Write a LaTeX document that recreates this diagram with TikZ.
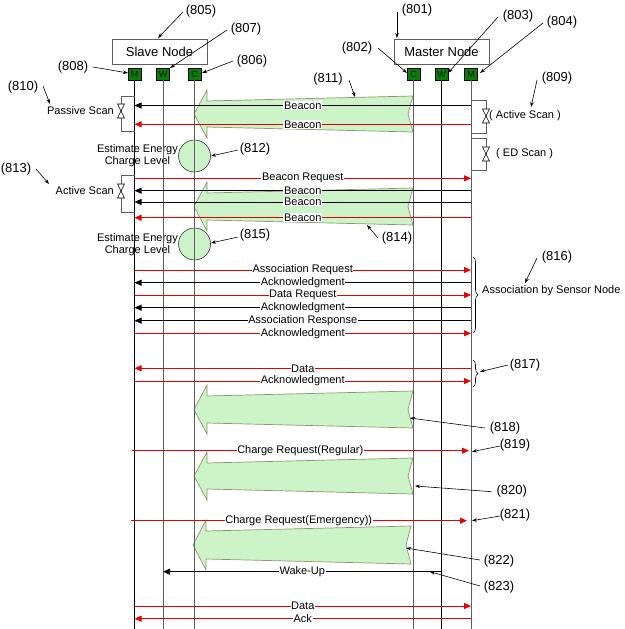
\documentclass[tikz,border=0pt]{standalone}
\usepackage{fontspec}
\setmainfont{Liberation Sans}
\usetikzlibrary{arrows.meta,decorations.pathreplacing}
\definecolor{msgred}{RGB}{232,0,0}
\definecolor{boxgreen}{RGB}{10,125,10}
\definecolor{lightg}{RGB}{204,244,200}
\definecolor{blkborder}{RGB}{140,150,110}
\definecolor{llgray}{RGB}{95,95,95}
\tikzset{
  lbl/.style={fill=white, text=black, inner sep=0.6pt, font=\fontsize{11}{12}\selectfont},
  reflbl/.style={inner sep=0pt, font=\fontsize{13}{14}\selectfont},
  refarr/.style={-{Stealth[length=5pt,width=3.5pt]}, line width=0.6pt},
  msgR/.style={color=msgred, line width=0.75pt, -{Triangle[length=7pt,width=6pt]}},
  msgK/.style={color=black, line width=0.75pt, -{Triangle[length=7pt,width=6pt]}},
  mainbox/.style={draw=llgray, line width=0.9pt, minimum width=95pt, minimum height=25pt, inner sep=0pt, font=\fontsize{13}{14}\selectfont},
  lbox/.style={draw=black, fill=boxgreen, line width=0.6pt, minimum width=13pt, minimum height=12pt, inner sep=0pt, text=black!80!boxgreen, font=\fontsize{9}{9}\selectfont},
  lifeK/.style={draw=black, line width=0.8pt},
  lifeG/.style={draw=llgray, line width=0.9pt},
  blk/.style={fill=lightg, draw=blkborder, line width=0.7pt},
  bracketline/.style={draw=llgray, line width=0.8pt},
  hglass/.style={draw=black, fill=white, line width=0.6pt},
  scanlbl/.style={inner sep=0pt, font=\fontsize{11}{12}\selectfont},
  estlbl/.style={inner sep=0pt, align=center, font=\fontsize{11}{12.5}\selectfont},
  bigbrace/.style={draw=black, line width=0.6pt, decorate, decoration={brace, amplitude=5pt}},
  energy/.style={circle, draw=black!80, fill=lightg, line width=0.6pt, minimum size=32pt, inner sep=0pt}
}
\newcommand\blockarrow[4]{% top, bottom, tipx, rightx
  \pgfmathsetmacro\bmid{(#1+#2)/2}
  \path[blk] (#3,\bmid) -- (#3+13,#1) -- (#3+13,#1+11) -- (#4,#1+6) -- (#4-5,\bmid)
     -- (#4,#2-6) -- (#3+13,#2-11) -- (#3+13,#2) -- cycle;}
\newcommand\msg[6]{% name, from x, to x, y, style, label
  \coordinate (#1a) at (#2,#4); \coordinate (#1b) at (#3,#4);
  \draw[#5] (#1a) -- node[lbl]{#6} (#1b);}
\newcommand\refl[8]{% name, x, y, text, tailx, taily, tipx, tipy
  \node[reflbl] (#1) at (#2,#3) {#4};
  \coordinate (#1t) at (#5,#6); \coordinate (#1p) at (#7,#8);
  \draw[refarr] (#1t) -- (#1p);}
\newcommand\hourglass[2]{%
  \draw[hglass] (#1-3.5,#2-7) -- (#1+3.5,#2-7) -- (#1,#2) -- cycle;
  \draw[hglass] (#1-3.5,#2+7) -- (#1+3.5,#2+7) -- (#1,#2) -- cycle;}
\begin{document}
\begin{tikzpicture}[x=1pt,y=-1pt]
\useasboundingbox (0,0) rectangle (624,629);
% block arrows
\blockarrow{90}{138}{194}{413}
\blockarrow{182}{231}{194}{413}
\blockarrow{385}{434}{194}{413}
\blockarrow{452}{500}{194}{413}
\blockarrow{520}{570}{193}{411}
% energy circles and texts
\node[energy] (c812) at (194.5,156) {};
\node[energy] (c815) at (194.5,244) {};
\node[estlbl] (e812) at (137.5,155.5) {Estimate Energy\\Charge Level};
\node[estlbl] (e815) at (137.5,244.5) {Estimate Energy\\Charge Level};
% main boxes
\node[mainbox] (slave) at (159.5,51.5) {Slave Node};
\node[mainbox] (master) at (441.5,51.5) {Master Node};
% lifeline boxes
\node[lbox] (sM) at (134.5,74) {M};
\node[lbox] (sW) at (163,74) {W};
\node[lbox] (sC) at (194.5,74) {C};
\node[lbox] (mC) at (413.5,74) {C};
\node[lbox] (mW) at (441.5,74) {W};
\node[lbox] (mM) at (471,74) {M};
\coordinate (sMe) at (134.5,629);
\coordinate (sWe) at (163,629);
\coordinate (sCe) at (194.5,629);
\coordinate (mCe) at (413.5,629);
\coordinate (mWe) at (441.5,629);
\coordinate (mMe) at (471,629);
\draw[lifeK] (sM.south) -- (sMe);
\draw[lifeG] (sW.south) -- (sWe);
\draw[lifeG] (sC.south) -- (sCe);
\draw[lifeG] (mC.south) -- (mCe);
\draw[lifeK] (mW.south) -- (mWe);
\draw[lifeG] (mM.south) -- (mMe);
% scan brackets
\draw[bracketline] (134.5,96) -- (121,96) -- (121,131) -- (134.5,131);
\hourglass{121}{111}
\node[scanlbl, anchor=east] (ps) at (114,111) {Passive Scan};
\draw[bracketline] (134.5,175) -- (121,175) -- (121,212) -- (134.5,212);
\hourglass{121}{191}
\node[scanlbl, anchor=east] (as) at (114,191) {Active Scan};
\draw[bracketline] (471,100) -- (486,100) -- (486,133) -- (471,133);
\hourglass{486}{116}
\node[scanlbl, anchor=west] (ras) at (489,116) {( Active Scan )};
\draw[bracketline] (471,138) -- (486,138) -- (486,170) -- (471,170);
\hourglass{486}{154}
\node[scanlbl, anchor=west] (eds) at (496,154) {( ED Scan )};
% messages
\msg{m1}{471}{134.5}{105.5}{msgK}{Beacon}
\msg{m2}{471}{134.5}{124.3}{msgR}{Beacon}
\msg{m3}{134.5}{471}{178.3}{msgR}{Beacon Request}
\msg{m4}{471}{134.5}{190.7}{msgK}{Beacon}
\msg{m5}{471}{134.5}{202}{msgK}{Beacon}
\msg{m6}{471}{134.5}{217.7}{msgR}{Beacon}
\msg{m7}{134.5}{471}{270}{msgR}{Association Request}
\msg{m8}{471}{134.5}{282.7}{msgK}{Acknowledgment}
\msg{m9}{134.5}{471}{295}{msgR}{Data Request}
\msg{m10}{471}{134.5}{307.7}{msgK}{Acknowledgment}
\msg{m11}{471}{134.5}{320.7}{msgK}{Association Response}
\msg{m12}{134.5}{471}{333.3}{msgR}{Acknowledgment}
\msg{m13}{471}{134.5}{368.3}{msgR}{Data}
\msg{m14}{134.5}{471}{381}{msgR}{Acknowledgment}
\msg{m15}{131.5}{469}{450.7}{msgR}{Charge Request(Regular)}
\msg{m16}{130.5}{467}{520.7}{msgR}{Charge Request(Emergency))}
\msg{m17}{441.5}{163}{571.7}{msgK}{Wake-Up}
\msg{m18}{134.5}{471}{606}{msgR}{Data}
\msg{m19}{471}{134.5}{618.7}{msgR}{Ack}
% braces
\draw[bigbrace] (473,257) -- (473,333);
\node[scanlbl, anchor=west] (abs) at (482,291) {Association by Sensor Node};
\draw[bigbrace] (473,360) -- (473,387);
% reference labels
\refl{r805}{201}{11}{(805)}{183}{12}{158}{38}
\refl{r807}{246}{29}{(807)}{227}{30}{170}{68}
\refl{r806}{252}{61}{(806)}{233}{61}{202}{73}
\refl{r808}{73}{67}{(808)}{93}{67}{128}{73}
\refl{r810}{23}{87}{(810)}{43}{86}{50}{104}
\refl{r801}{417}{10}{(801)}{397}{12}{397}{38}
\refl{r802}{357}{48}{(802)}{378}{48}{407}{73}
\refl{r803}{518}{16}{(803)}{498}{17}{448}{73}
\refl{r804}{562}{22}{(804)}{543}{23}{480}{73}
\refl{r809}{557}{78}{(809)}{537}{80}{531}{107}
\refl{r811}{328}{79}{(811)}{349}{80}{355}{97}
\refl{r812}{255}{149}{(812)}{238}{150}{211}{156}
\refl{r813}{16}{169}{(813)}{36}{169}{49}{184}
\refl{r814}{397}{238}{(814)}{378}{238}{367}{225}
\refl{r815}{255}{235}{(815)}{238}{237}{211}{243}
\refl{r816}{557}{257}{(816)}{537}{258}{525}{283}
\refl{r817}{525}{365}{(817)}{508}{365}{480}{371.7}
\refl{r818}{505}{428}{(818)}{485}{428}{410}{418}
\refl{r819}{515}{445}{(819)}{500}{446}{472}{451.7}
\refl{r820}{511.7}{491}{(820)}{491.7}{491.7}{415}{486}
\refl{r821}{515}{515}{(821)}{500}{516}{472}{520.7}
\refl{r822}{499}{561}{(822)}{480}{560}{406}{548}
\refl{r823}{499}{586.7}{(823)}{480}{586}{430}{571.7}
\end{tikzpicture}
\end{document}
